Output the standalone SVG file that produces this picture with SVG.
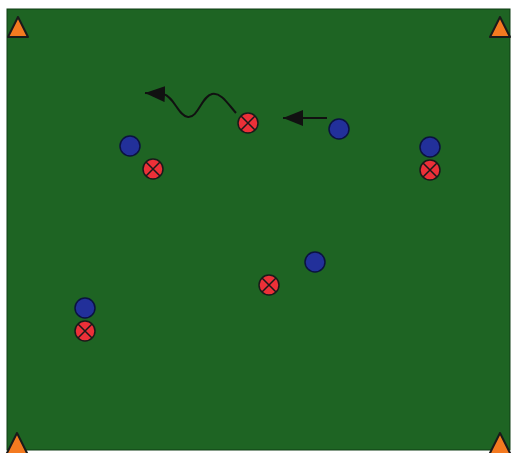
<svg xmlns="http://www.w3.org/2000/svg" width="513" height="453" viewBox="0 0 513 453">
<defs>
<style>
.cone{fill:#f47a20;stroke:#1a1a1a;stroke-width:2;stroke-linejoin:round}
.blue{fill:#22309a;stroke:#0b1240;stroke-width:1.5}
.red{fill:#ec3038;stroke:#1a1a1a;stroke-width:1.5}
.x{stroke:#1a1a1a;stroke-width:1.5}
.mv{fill:none;stroke:#111;stroke-width:2}
</style>
<marker id="ah" markerWidth="10" markerHeight="8" refX="10" refY="4" orient="auto" markerUnits="strokeWidth">
<path d="M0,0 L10,4 L0,8 z" fill="#111"/>
</marker>
<g id="redp"><circle r="10" class="red"/><path d="M-7,-7 L7,7 M-7,7 L7,-7" class="x"/></g>
</defs>
<rect width="513" height="453" fill="#ffffff"/>
<rect id="field" x="7" y="9" width="503" height="441" fill="#1e6423" stroke="#0f3d14" stroke-width="1"/>
<g id="cones">
<polygon class="cone" points="18,17 8,37 28,37"/>
<polygon class="cone" points="500,17 490,37 510,37"/>
<polygon class="cone" points="17,433 6,455 28,455"/>
<polygon class="cone" points="500,433 489,455 511,455"/>
</g>
<g id="connectors">
<path class="mv" d="M236,113 C228,104 221,92 212,94 C202,96 198,118 188,117 C178,116 174,96 163,94 L145,93" marker-end="url(#ah)"/>
<line class="mv" x1="327" y1="118" x2="283" y2="118" marker-end="url(#ah)"/>
</g>
<g id="blue1"><circle cx="130" cy="146" r="10" class="blue"/></g>
<g id="blue2"><circle cx="339" cy="129" r="10" class="blue"/></g>
<g id="blue3"><circle cx="430" cy="147" r="10" class="blue"/></g>
<g id="blue4"><circle cx="315" cy="262" r="10" class="blue"/></g>
<g id="blue5"><circle cx="85" cy="308" r="10" class="blue"/></g>
<g id="red1"><use href="#redp" x="248" y="123"/></g>
<g id="red2"><use href="#redp" x="153" y="169"/></g>
<g id="red3"><use href="#redp" x="430" y="170"/></g>
<g id="red4"><use href="#redp" x="269" y="285"/></g>
<g id="red5"><use href="#redp" x="85" y="331"/></g>
</svg>
